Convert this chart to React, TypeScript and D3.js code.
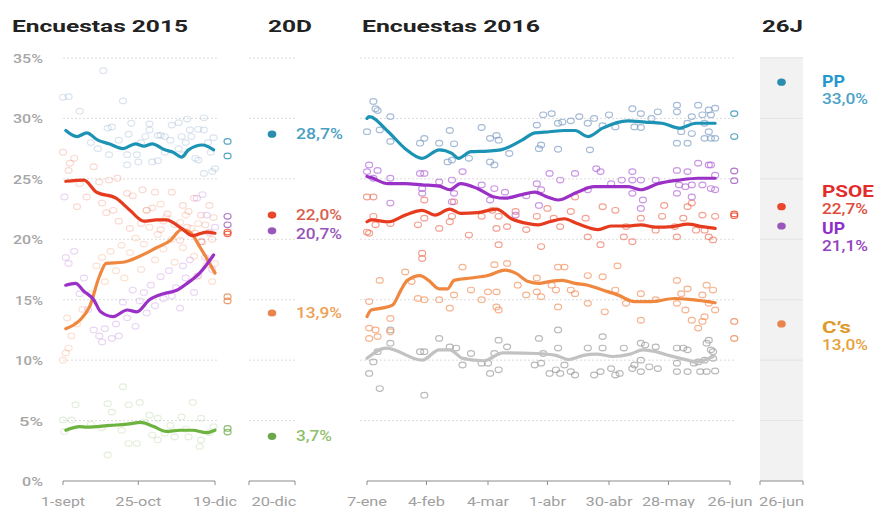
import React from "react";
import * as d3 from "d3";

// ---------- DATA ----------
// 2015: [days since 1-sept, %]
const pp2015Line = [[2,29.0],[10,28.5],[17,28.8],[25,28.2],[33,27.9],[43,27.5],[52,27.9],[58,27.7],[64,27.9],[73,27.4],[79,27.2],[85,26.8],[90,27.4],[100,27.8],[108,27.4]];
const psoe2015Line = [[2,24.8],[15,24.9],[24,23.9],[38,23.4],[48,22.4],[58,21.5],[67,21.6],[74,21.6],[85,20.9],[93,20.3],[103,20.6],[109,20.5]];
const cs2015Line = [[2,12.6],[12,13.3],[19,14.4],[26,16.9],[31,18.0],[43,18.1],[55,18.6],[67,19.3],[77,19.9],[85,20.8],[91,20.6],[98,19.4],[109,17.2]];
const up2015Line = [[2,16.2],[9,16.35],[15,15.7],[22,15.0],[27,14.0],[36,13.6],[46,14.15],[53,14.0],[62,15.0],[72,15.5],[82,15.8],[89,16.35],[98,17.2],[108,18.7]];
const iu2015Line = [[2,4.2],[12,4.5],[17,4.45],[34,4.6],[46,4.7],[56,4.85],[65,4.5],[74,4.1],[84,4.2],[93,4.2],[103,4.0],[109,4.2]];

const pp2015Polls = [[0,31.75],[4,31.8],[12,30.6],[29,33.95],[43,31.45],[49,29.6],[62,29.55],[78,29.45],[83,29.65],[89,29.95],[101,30.05],[32,29.2],[35,29.3],[47,28.7],[62,29.05],[70,28.6],[73,28.5],[85,28.5],[91,29.05],[97,29.1],[101,29.05],[108,28.4],[92,28.5],[33,27.0],[46,27.0],[53,27.0],[54,26.4],[46,26.15],[64,26.4],[68,26.5],[73,27.2],[83,27.5],[95,26.7],[97,26.55],[101,25.45],[107,25.6],[109,25.85],[86,27.0],[59,28.5],[68,28.6],[20,28.0],[25,27.5],[40,28.2],[56,28.0],[77,28.2],[104,28.0],[106,27.2],[88,28.0]];
const psoe2015Polls = [[0,27.2],[5,26.3],[8,26.7],[4,25.7],[12,24.6],[17,23.5],[22,26.0],[26,24.75],[33,24.9],[39,25.05],[46,23.8],[50,23.6],[57,24.1],[66,23.9],[78,23.9],[86,22.8],[94,23.4],[99,22.0],[105,22.8],[108,21.8],[10,22.7],[31,22.2],[40,21.5],[60,22.4],[64,22.6],[72,21.5],[80,21.2],[89,21.0],[95,20.5],[102,21.2],[107,20.0],[48,20.9],[56,21.3],[70,20.8],[84,19.9],[99,19.8],[28,23.0],[36,22.4],[75,22.1],[90,22.3]];
const cs2015Polls = [[0,10.0],[2,10.6],[4,11.0],[6,12.0],[3,13.5],[10,13.0],[14,14.2],[20,15.5],[24,17.8],[28,18.5],[30,16.5],[34,19.0],[38,17.4],[42,19.5],[44,16.8],[48,18.9],[52,20.1],[56,17.5],[58,19.6],[62,21.0],[66,18.3],[68,20.4],[72,19.2],[74,21.8],[78,20.0],[80,18.1],[84,21.4],[86,19.3],[88,22.0],[92,20.9],[94,18.6],[97,21.3],[100,19.8],[103,17.9],[105,20.5],[107,16.5],[109,18.0],[96,16.9],[60,22.4],[70,22.9]];
const up2015Polls = [[2,18.5],[4,18.0],[8,19.0],[1,23.5],[12,15.5],[15,16.8],[18,14.2],[22,12.5],[26,12.0],[28,11.5],[30,12.6],[35,11.8],[38,13.0],[40,12.0],[43,14.8],[46,13.5],[50,15.8],[52,12.8],[55,14.9],[58,15.6],[60,13.9],[63,16.2],[66,14.5],[70,16.9],[72,15.1],[76,17.4],[78,15.3],[81,16.0],[84,14.3],[86,17.8],[88,16.8],[91,18.3],[94,15.6],[97,17.0],[99,19.8],[102,18.5],[105,20.6],[107,17.5],[109,21.0],[103,22.0],[96,23.4],[100,23.7]];
const iu2015Polls = [[43,7.8],[9,6.3],[32,6.4],[35,5.7],[47,6.3],[55,6.5],[93,6.5],[0,5.05],[6,5.05],[62,5.45],[68,5.2],[85,5.3],[99,5.2],[1,4.1],[42,4.2],[64,3.8],[73,3.95],[80,3.65],[90,3.65],[99,3.4],[47,3.1],[53,3.1],[32,2.15],[68,3.4],[98,2.85],[20,4.7],[28,4.4],[58,4.9],[77,4.6],[105,4.0],[108,4.5],[88,4.3]];

// last-day polls drawn beside the 2015 panel [day, %]
const pp2015Last = [[118,28.1],[118,26.9]];
const psoe2015Last = [[118,20.45],[118,20.6]];
const up2015Last = [[118,21.9],[118,21.2]];
const cs2015Last = [[118,15.25],[118,14.9]];
const iu2015Last = [[118,4.05],[118,4.35]];

// 20D results
const parties20D = ["PP","PSOE","UP","CS","IU"];
const values20D = [28.7,22.0,20.7,13.9,3.7];

// 2016: [days since 7-ene, %]
const pp2016Line = [[0,30.0],[1,30.15],[10,28.9],[18,27.5],[26,26.7],[34,27.4],[40,27.1],[43,26.7],[49,27.25],[57,27.3],[63,27.4],[73,28.2],[79,28.8],[86,28.9],[93,29.0],[98,29.0],[104,28.5],[111,29.2],[123,29.8],[131,29.7],[139,29.6],[147,29.2],[155,29.6],[164,29.6]];
const up2016Line = [[0,25.2],[2,25.1],[10,24.6],[18,24.6],[26,24.5],[34,24.4],[39,24.1],[44,24.6],[52,24.2],[60,23.5],[65,23.4],[73,23.7],[79,23.9],[85,23.5],[90,23.25],[99,23.9],[107,24.35],[115,24.35],[123,24.35],[129,24.1],[137,24.6],[147,24.9],[156,25.05],[164,25.05]];
const psoe2016Line = [[0,21.45],[2,21.6],[10,21.45],[18,22.0],[26,22.4],[32,22.0],[39,22.5],[44,22.15],[52,22.2],[61,22.5],[68,21.7],[76,21.3],[81,21.2],[86,21.45],[93,21.7],[99,21.3],[109,20.8],[115,21.1],[123,21.1],[129,21.2],[136,21.0],[144,21.05],[151,21.25],[158,21.05],[164,20.9]];
const cs2016Line = [[0,13.6],[2,14.15],[7,14.3],[12,14.55],[16,15.8],[19,16.6],[25,17.0],[29,16.6],[34,15.9],[38,15.9],[41,16.6],[49,16.8],[57,17.0],[65,17.45],[70,17.2],[76,16.5],[81,16.35],[86,16.5],[92,16.6],[98,16.35],[104,16.2],[111,15.8],[118,15.4],[126,14.85],[134,14.85],[145,15.1],[153,15.0],[164,14.75]];
const ot2016Line = [[0,10.15],[9,11.0],[26,10.0],[34,10.85],[39,10.85],[45,10.15],[55,9.95],[64,10.6],[80,10.55],[89,10.4],[95,10.05],[102,10.4],[108,10.5],[116,10.3],[124,10.5],[130,10.85],[136,10.7],[143,10.35],[151,10.0],[155,9.85],[163,10.3]];

const pp2016Polls = [[3,31.4],[4,30.8],[5,30.65],[0,28.9],[6,29.05],[11,30.15],[11,28.1],[25,27.95],[27,28.35],[34,27.95],[39,29.0],[41,27.9],[40,26.55],[38,26.4],[48,26.7],[54,29.25],[58,28.35],[61,28.6],[62,28.2],[58,26.4],[60,26.15],[67,27.1],[80,29.45],[83,30.3],[81,27.5],[82,27.8],[90,29.6],[92,29.7],[87,30.4],[96,29.8],[100,30.15],[104,29.6],[107,30.0],[90,27.45],[105,27.4],[114,30.3],[111,29.4],[117,29.3],[125,30.8],[129,30.4],[126,29.3],[129,29.25],[137,30.55],[134,30.0],[146,31.1],[146,30.55],[148,28.9],[146,27.95],[151,27.95],[153,30.15],[156,31.1],[158,30.3],[161,30.7],[162,30.3],[164,30.85],[159,29.6],[161,28.9],[159,28.35],[162,28.35],[164,28.35],[151,29.6],[153,28.75]];
const up2016Polls = [[1,26.15],[0,25.6],[5,25.7],[3,25.05],[11,25.05],[25,25.45],[27,25.45],[26,24.2],[26,23.8],[34,24.75],[40,24.9],[45,25.6],[54,24.5],[60,24.2],[58,23.25],[40,23.1],[41,23.8],[80,24.6],[82,24.1],[81,22.8],[11,23.0],[86,25.45],[91,24.9],[98,25.45],[108,25.85],[110,25.6],[104,24.1],[115,24.6],[120,24.9],[125,25.6],[125,24.9],[129,24.9],[125,23.8],[130,23.25],[136,24.9],[146,25.7],[151,25.6],[156,26.3],[161,26.15],[147,24.5],[150,24.35],[153,24.5],[158,24.5],[162,24.2],[146,23.8],[153,23.5],[162,26.15],[164,25.3],[164,24.1],[129,22.55],[70,22.0],[65,23.9],[75,23.6]];
const psoe2016Polls = [[0,23.5],[3,23.5],[0,20.6],[1,20.5],[4,21.2],[3,21.9],[11,21.3],[27,23.25],[24,21.2],[27,21.75],[34,20.9],[41,23.1],[39,21.45],[40,21.9],[48,20.35],[54,21.9],[59,22.4],[62,21.9],[61,20.9],[66,21.05],[62,19.55],[80,21.9],[82,19.4],[26,18.85],[26,18.4],[85,22.55],[88,21.75],[91,21.05],[96,22.3],[103,21.75],[104,20.2],[111,22.7],[117,22.4],[110,19.55],[121,20.2],[125,19.8],[129,21.75],[136,20.75],[146,20.2],[151,22.7],[153,23.0],[149,21.75],[158,22.0],[159,20.75],[163,19.95],[161,20.2],[164,21.9],[155,20.75],[145,21.05],[139,21.9],[122,21.05],[70,22.3],[75,20.8],[98,23.5],[140,22.8]];
const cs2016Polls = [[6,16.6],[1,14.85],[1,12.65],[4,12.5],[5,11.95],[11,13.45],[1,11.8],[11,12.35],[24,15.1],[27,15.0],[34,15.0],[39,14.3],[41,15.4],[45,17.7],[49,15.8],[54,15.0],[57,15.65],[61,15.65],[60,17.9],[61,14.4],[62,14.15],[66,18.0],[80,16.8],[80,15.65],[82,15.25],[90,17.7],[93,17.7],[87,16.2],[89,15.8],[96,15.8],[90,14.4],[98,15.5],[104,17.0],[111,16.9],[104,14.7],[112,14.0],[118,17.8],[117,15.8],[129,15.5],[129,13.3],[122,14.7],[136,15.0],[146,16.6],[146,14.7],[151,15.9],[158,15.4],[150,14.15],[153,13.3],[158,13.2],[160,16.2],[163,15.8],[161,14.7],[164,14.15],[156,12.65],[159,13.6],[148,15.5],[18,17.3],[21,16.5],[71,16.2],[75,15.4]];
const ot2016Polls = [[1,8.9],[6,7.65],[3,9.85],[5,10.7],[11,11.4],[27,7.1],[25,10.7],[27,10.7],[34,11.8],[39,11.1],[42,11.0],[45,9.6],[49,10.55],[54,9.75],[57,9.75],[58,8.9],[62,9.2],[62,11.65],[66,11.1],[60,10.55],[79,9.6],[82,9.75],[81,11.8],[83,10.55],[86,8.9],[89,9.2],[91,8.9],[93,9.6],[90,12.5],[90,11.0],[96,9.05],[98,8.77],[104,11.0],[107,8.77],[110,9.05],[111,11.95],[111,11.0],[115,9.3],[117,8.77],[119,8.9],[121,11.0],[125,9.3],[126,9.6],[129,11.4],[131,11.25],[129,9.05],[129,10.0],[133,9.45],[137,9.3],[136,11.1],[146,11.0],[149,11.0],[146,9.75],[146,9.05],[151,9.05],[151,10.85],[157,9.05],[160,9.05],[164,9.1],[160,11.4],[161,11.65],[156,9.85],[159,10.0],[163,10.15],[162,10.85],[163,10.7],[154,9.75],[11,12.5]];

const pp2016Last = [[173,30.4],[173,28.5]];
const psoe2016Last = [[173,21.95],[173,22.1]];
const up2016Last = [[173,25.65],[173,24.85]];
const cs2016Last = [[173,13.2],[173,11.8]];

// 26J results
const parties26J = ["PP","PSOE","UP","CS"];
const names26J = ["PP","PSOE","UP","C\u2019s"];
const values26J = [33.0,22.7,21.1,13.0];

// axes
const yTicks = [0,5,10,15,20,25,30,35];
const ticks2015 = [0,54,109];
const tickLabels2015 = ["1-sept","25-oct","19-dic"];
const ticks2016 = [0,28,57,85,114,142,171];
const tickLabels2016 = ["7-ene","4-feb","4-mar","1-abr","30-abr","28-may","26-jun"];
const tickLabel20D = "20-dic";
const tickLabel26J = "26-jun";
const titles = ["Encuestas 2015","20D","Encuestas 2016","26J"];

// ---------- STYLE ----------
const FONT = "Roboto, 'Open Sans', sans-serif";
const LINE: Record<string,string> = { PP:"#1c93b4", PSOE:"#e63b1e", UP:"#9a30c6", CS:"#f0873f", IU:"#6db33f", OT:"#c2c2c2" };
const PTS: Record<string,string> = { PP:"#7f9ec4", PSOE:"#ee7762", UP:"#b46ad9", CS:"#f29360", IU:"#9cc47e", OT:"#9b9b9b" };
const DOT: Record<string,string> = { PP:"#2a8db0", PSOE:"#e8472b", UP:"#9a56b9", CS:"#e8844c", IU:"#6aa94a" };
const VAL20: Record<string,string> = { PP:"#4a9fc2", PSOE:"#d9604c", UP:"#9653b8", CS:"#eea054", IU:"#8fc06b" };
const NAME26: Record<string,string> = { PP:"#2598d0", PSOE:"#e32b2b", UP:"#8e2fc9", CS:"#e09a2a" };
const VAL26: Record<string,string> = { PP:"#4aa3c6", PSOE:"#e04a3a", UP:"#9342bf", CS:"#e6a23c" };
const yTickW: Record<number,number> = {0:21,5:24,10:28,15:28,20:30,25:30,30:30,35:30};
const tickW2015 = [44,46,44];
const tickW2016 = [40,37,42,37,47,53,45];
const titleX = [12,268,362,762];
const titleW = [176,44,178,41];
const val20W: Record<string,number> = { PP:47, PSOE:46, UP:46, CS:46, IU:36 };
const name26W: Record<string,number> = { PP:23, PSOE:52, UP:23, CS:29 };
const name26Y: Record<string,number> = { PP:87, PSOE:197, UP:234, CS:333 };

const fmt = (v: number) => d3.format(".1f")(v).replace(".", ",") + "%";

function T(props: any) {
  const { x, y, w, anchor = "start", size = 13, weight = 400, fill = "#999", children } = props;
  return (
    <text x={x} y={y} textLength={w} lengthAdjust="spacingAndGlyphs" textAnchor={anchor}
      fontSize={size} fontWeight={weight} fill={fill} fontFamily={FONT}>{children}</text>
  );
}

export default function App() {
  const y = d3.scaleLinear().domain([0, 35]).range([481, 58]);
  const x15 = d3.scaleLinear().domain([0, 109]).range([63, 215]);
  const x16 = d3.scaleLinear().domain([0, 171]).range([367, 730]);
  const x20D = d3.scalePoint().domain(["20D"]).range([249, 295]).padding(0.5);
  const x26J = d3.scalePoint().domain(["26J"]).range([760, 803]).padding(0.5);

  const line15 = d3.line<number[]>().x(d => x15(d[0])).y(d => y(d[1])).curve(d3.curveMonotoneX);
  const line16 = d3.line<number[]>().x(d => x16(d[0])).y(d => y(d[1])).curve(d3.curveMonotoneX);

  const s2015 = [
    { k: "IU", line: iu2015Line, pts: iu2015Polls, last: iu2015Last },
    { k: "CS", line: cs2015Line, pts: cs2015Polls, last: cs2015Last },
    { k: "UP", line: up2015Line, pts: up2015Polls, last: up2015Last },
    { k: "PSOE", line: psoe2015Line, pts: psoe2015Polls, last: psoe2015Last },
    { k: "PP", line: pp2015Line, pts: pp2015Polls, last: pp2015Last },
  ];
  const s2016 = [
    { k: "OT", line: ot2016Line, pts: ot2016Polls, last: [] as number[][] },
    { k: "CS", line: cs2016Line, pts: cs2016Polls, last: cs2016Last },
    { k: "PSOE", line: psoe2016Line, pts: psoe2016Polls, last: psoe2016Last },
    { k: "UP", line: up2016Line, pts: up2016Polls, last: up2016Last },
    { k: "PP", line: pp2016Line, pts: pp2016Polls, last: pp2016Last },
  ];

  const gridRanges = [[63, 217], [249, 295], [360, 735]];
  const axisY = y(0);

  const Ell = (p: any) => (
    <ellipse cx={p.cx} cy={p.cy} rx={3.5} ry={2.8} fill="none" stroke={p.c} strokeWidth={1.2} strokeOpacity={p.o} />
  );

  return (
    <svg width={877} height={508} style={{ position: "absolute", left: 0, top: 0, background: "#fff" }}>
      {/* 26J background */}
      <rect x={760} y={57} width={43} height={axisY - 57} fill="#f2f2f2" />

      {/* titles */}
      {titles.map((t, i) => (
        <T key={t} x={titleX[i]} y={32} w={titleW[i]} size={17} weight={700} fill="#222">{t}</T>
      ))}

      {/* grid */}
      {yTicks.filter(v => v > 0).map(v => (
        <g key={v}>
          {gridRanges.map((r, i) => (
            <line key={i} x1={r[0]} x2={r[1]} y1={y(v)} y2={y(v)} stroke="#dcdcdc" strokeDasharray="2,2" strokeWidth={1} />
          ))}
          <line x1={760} x2={803} y1={y(v)} y2={y(v)} stroke="#e4e4e4" strokeWidth={1} />
        </g>
      ))}

      {/* y labels */}
      {yTicks.map(v => (
        <T key={v} x={43} y={y(v) + 5} w={yTickW[v]} anchor="end" size={13} weight={500} fill="#a6a6a6">{`${v}%`}</T>
      ))}

      {/* 2015 polls */}
      {s2015.map(s => (
        <g key={"p15" + s.k}>
          {s.pts.map((d, i) => <Ell key={i} cx={x15(d[0])} cy={y(d[1])} c={PTS[s.k]} o={0.28} />)}
        </g>
      ))}
      {/* 2015 lines */}
      {s2015.map(s => (
        <path key={"l15" + s.k} d={line15(s.line) || ""} fill="none" stroke={LINE[s.k]} strokeWidth={3.2} strokeLinejoin="round" strokeLinecap="round" />
      ))}
      {s2015.map(s => (
        <g key={"o15" + s.k}>
          {s.last.map((d, i) => <Ell key={i} cx={x15(d[0])} cy={y(d[1])} c={DOT[s.k]} o={0.8} />)}
        </g>
      ))}

      {/* 2016 polls */}
      {s2016.map(s => (
        <g key={"p16" + s.k}>
          {s.pts.map((d, i) => <Ell key={i} cx={x16(d[0])} cy={y(d[1])} c={PTS[s.k]} o={0.7} />)}
        </g>
      ))}
      {s2016.map(s => (
        <path key={"l16" + s.k} d={line16(s.line) || ""} fill="none" stroke={LINE[s.k]} strokeWidth={3.2} strokeLinejoin="round" strokeLinecap="round" />
      ))}
      {s2016.map(s => (
        <g key={"o16" + s.k}>
          {s.last.map((d, i) => <Ell key={i} cx={x16(d[0])} cy={y(d[1])} c={DOT[s.k]} o={0.8} />)}
        </g>
      ))}

      {/* 20D results */}
      {parties20D.map((p, i) => (
        <g key={"r20" + p}>
          <ellipse cx={x20D("20D")} cy={y(values20D[i])} rx={4.3} ry={3.6} fill={DOT[p]} />
          <T x={296} y={y(values20D[i]) + (p === "UP" ? 3 : 0) + 5} w={val20W[p]} size={14} weight={500} fill={VAL20[p]}>{fmt(values20D[i])}</T>
        </g>
      ))}

      {/* 26J results */}
      {parties26J.map((p, i) => (
        <g key={"r26" + p}>
          <ellipse cx={x26J("26J")} cy={y(values26J[i])} rx={4.3} ry={3.6} fill={DOT[p]} />
          <T x={822} y={name26Y[p]} w={name26W[p]} size={16} weight={700} fill={NAME26[p]}>{names26J[i]}</T>
          <T x={822} y={name26Y[p] + 17} w={46} size={14} weight={500} fill={VAL26[p]}>{fmt(values26J[i])}</T>
        </g>
      ))}

      {/* x axes */}
      <g stroke="#8c8c8c" strokeWidth={1}>
        <line x1={x15(0)} x2={x15(109)} y1={axisY} y2={axisY} />
        {ticks2015.map(t => <line key={t} x1={x15(t)} x2={x15(t)} y1={axisY} y2={axisY + 4} />)}
        <line x1={249} x2={295} y1={axisY} y2={axisY} />
        <line x1={249} x2={249} y1={axisY} y2={axisY + 4} />
        <line x1={295} x2={295} y1={axisY} y2={axisY + 4} />
        <line x1={x16(0)} x2={x16(171)} y1={axisY} y2={axisY} />
        {ticks2016.map(t => <line key={t} x1={x16(t)} x2={x16(t)} y1={axisY} y2={axisY + 4} />)}
        <line x1={760} x2={803} y1={axisY} y2={axisY} />
        <line x1={760} x2={760} y1={axisY} y2={axisY + 4} />
        <line x1={803} x2={803} y1={axisY} y2={axisY + 4} />
      </g>
      {ticks2015.map((t, i) => (
        <T key={t} x={x15(t)} y={506} w={tickW2015[i]} anchor="middle" size={13} fill="#a0a0a0">{tickLabels2015[i]}</T>
      ))}
      <T x={x20D("20D")! + 2} y={506} w={45} anchor="middle" size={13} fill="#a0a0a0">{tickLabel20D}</T>
      {ticks2016.map((t, i) => (
        <T key={t} x={x16(t)} y={506} w={tickW2016[i]} anchor="middle" size={13} fill="#a0a0a0">{tickLabels2016[i]}</T>
      ))}
      <T x={x26J("26J")} y={506} w={45} anchor="middle" size={13} fill="#a0a0a0">{tickLabel26J}</T>
    </svg>
  );
}
